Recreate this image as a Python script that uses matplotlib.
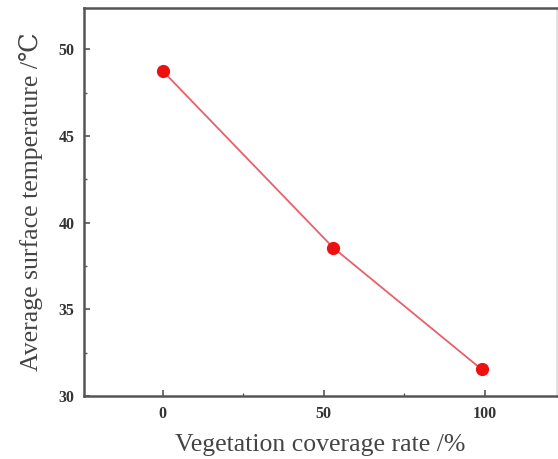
import matplotlib
matplotlib.use("Agg")
import matplotlib.pyplot as plt
from matplotlib.ticker import MultipleLocator

# vegetation coverage (%) vs. mean surface temperature (degC)
coverage = [0, 53, 99]
temperature = [48.75, 38.55, 31.55]

plt.rcParams["font.family"] = ["Liberation Serif", "DejaVu Serif"]

fig = plt.figure(figsize=(5.58, 4.59), dpi=100)
ax = fig.add_axes([0.1505, 0.137, 0.848, 0.846])

ax.plot(coverage, temperature, color="#e8606a", linewidth=1.3, zorder=2)
ax.plot(coverage, temperature, linestyle="none", marker="o",
        markersize=8.5, color="#ee1010", zorder=3)

ax.set_xlim(-24.5, 122.5)
ax.set_ylim(30, 52.4)
ax.xaxis.set_major_locator(MultipleLocator(50))
ax.xaxis.set_minor_locator(MultipleLocator(25))
ax.yaxis.set_major_locator(MultipleLocator(5))
ax.yaxis.set_minor_locator(MultipleLocator(2.5))

for side in ax.spines.values():
    side.set_color("#555555")
    side.set_linewidth(1.8)
ax.spines["right"].set_color("#dddddd")

ax.tick_params(which="both", direction="in", color="#555555",
               top=False, right=False)
ax.tick_params(which="major", length=4, width=1.2, labelsize=11.5, pad=7)
ax.tick_params(which="minor", length=2.5, width=1.0)
for lbl in ax.get_xticklabels() + ax.get_yticklabels():
    lbl.set_fontweight("bold")
    lbl.set_color("#333333")

ax.set_xlabel("Vegetation coverage rate /%", fontsize=18.5, color="#444444",
              labelpad=9)
ax.set_ylabel("Average surface temperature /℃", fontsize=18.5, color="#444444",
              labelpad=11, family=["Liberation Serif", "DejaVu Serif", "Noto Sans CJK SC"])

fig.savefig("out.png", dpi=100)
